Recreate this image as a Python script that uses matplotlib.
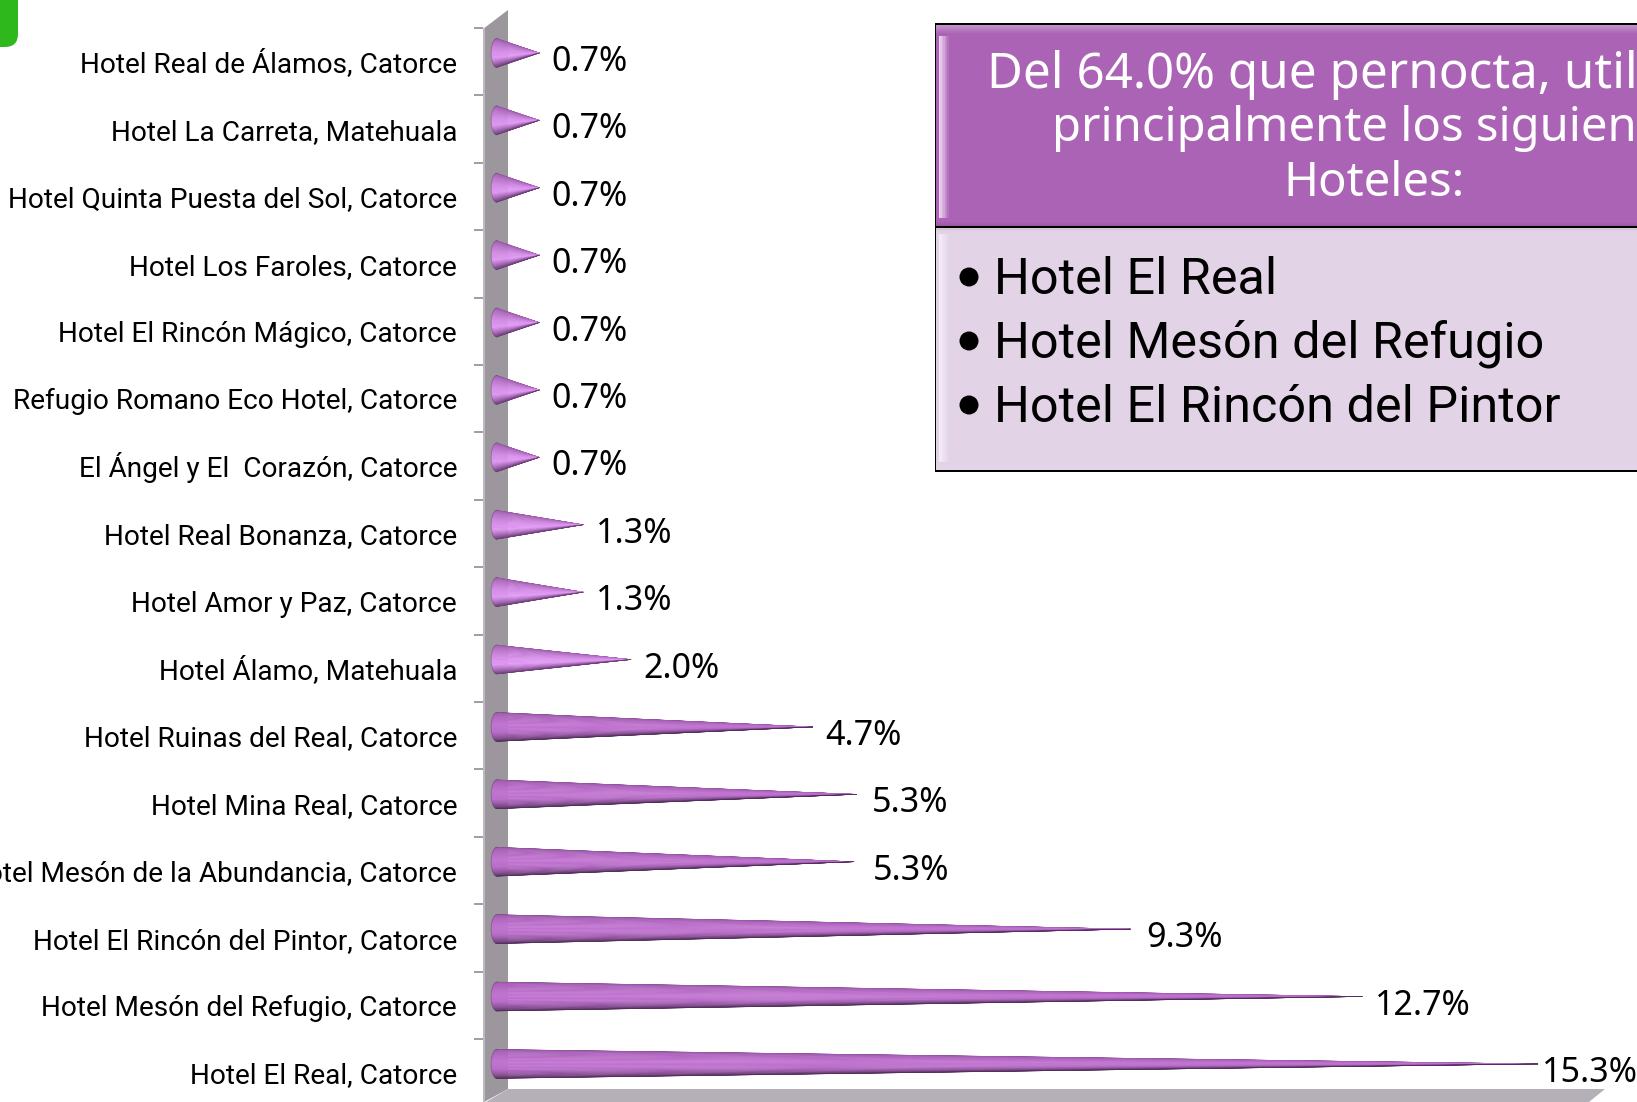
import numpy as np
import matplotlib
matplotlib.use('Agg')
import matplotlib.pyplot as plt
from matplotlib.patches import Polygon, FancyBboxPatch, Rectangle, Ellipse

hoteles = ['Hotel Real de Álamos, Catorce', 'Hotel La Carreta, Matehuala',
           'Hotel Quinta Puesta del Sol, Catorce', 'Hotel Los Faroles, Catorce',
           'Hotel El Rincón Mágico, Catorce', 'Refugio Romano Eco Hotel, Catorce',
           'El Ángel y El  Corazón, Catorce', 'Hotel Real Bonanza, Catorce',
           'Hotel Amor y Paz, Catorce', 'Hotel Álamo, Matehuala',
           'Hotel Ruinas del Real, Catorce', 'Hotel Mina Real, Catorce',
           'Hotel Mesón de la Abundancia, Catorce', 'Hotel El Rincón del Pintor, Catorce',
           'Hotel Mesón del Refugio, Catorce', 'Hotel El Real, Catorce']
valores = [0.7, 0.7, 0.7, 0.7, 0.7, 0.7, 0.7, 1.34, 1.34, 2.04, 4.7, 5.34, 5.3, 9.34, 12.73, 15.3]

titulo = ['Del 64.0% que pernocta, utilizaron', 'principalmente los siguientes', 'Hoteles:']
lista = ['Hotel El Real', 'Hotel Mesón del Refugio', 'Hotel El Rincón del Pintor']

W, H = 1637, 1102
FUENTE_ETIQ = ['Roboto', 'DejaVu Sans']
FUENTE = ['Noto Sans', 'DejaVu Sans']

# separacion en pixeles entre la punta del cono y su etiqueta
separacion = [12.5] * 11 + [15.5, 18.5, 15.5, 12.5, 4]

fig = plt.figure(figsize=(W / 100, H / 100), dpi=100, facecolor='white')


def px(x, y):
    return (x / W, 1 - y / H)


def poligono(puntos, color, z=-1):
    fig.add_artist(Polygon([px(*p) for p in puntos], closed=True, transform=fig.transFigure,
                           facecolor=color, edgecolor='none', zorder=z))


def degradado(x0, x1, y0, y1, c0, c1, vertical=True, n=14):
    # bisel de la tabla, tiras finas
    c0, c1 = np.array(matplotlib.colors.to_rgb(c0)), np.array(matplotlib.colors.to_rgb(c1))
    for k in range(n):
        t = k / (n - 1)
        col = c0 * (1 - t) + c1 * t
        if vertical:
            a, b = y0 + (y1 - y0) * k / n, y0 + (y1 - y0) * (k + 1) / n
            poligono([(x0, a), (x1, a), (x1, b), (x0, b)], col)
        else:
            a, b = x0 + (x1 - x0) * k / n, x0 + (x1 - x0) * (k + 1) / n
            poligono([(a, y0), (b, y0), (b, y1), (a, y1)], col)


# pared y piso del grafico 3D
poligono([(483, 29), (508, 10), (508, 1089), (484, 1102), (483, 1102)], '#9b979d')
poligono([(483, 29), (485, 27.5), (485, 1102), (483, 1102)], '#bdbabf')
poligono([(508, 1089), (1605, 1089), (1589, 1102), (486, 1102)], '#b5b0b8')

# recuadro verde de la esquina
fig.add_artist(FancyBboxPatch((-30 / W, 1 - 47 / H), 48 / W, 80 / H,
                              boxstyle='round,pad=0,rounding_size=0.008',
                              mutation_aspect=W / H, transform=fig.transFigure,
                              facecolor='#2fb81c', edgecolor='none', zorder=-1))

# ejes
ax = fig.add_axes([483 / W, 1 - (28 + 16 * 67.4) / H, (16.124 * 68.4) / W, 16 * 67.4 / H])
ax.patch.set_alpha(0)
ax.set_xlim(-0.124, 16)
ax.set_ylim(16, 0)
for lado in ax.spines.values():
    lado.set_visible(False)
ax.set_xticks([])
ax.set_yticks(np.arange(len(hoteles)) + 0.66)
ax.set_yticklabels(hoteles, fontsize=20.2, family=FUENTE_ETIQ, color='black', va='baseline')
ax.set_yticks(np.arange(len(hoteles) + 1), minor=True)
ax.tick_params(axis='y', which='major', length=0, pad=18.7)
ax.tick_params(axis='y', which='minor', length=6.5, width=1.2, color='#8f8c91')

# sombreado de los conos: arriba oscuro, brillo, abajo muy oscuro
tonos_pos = [0.0, 0.12, 0.45, 0.62, 0.85, 1.0]
tonos_chico = ['#8a5096', '#a764b7', '#d68ee8', '#e29af6', '#8b5298', '#6a3c74']
tonos_grande = ['#7a4686', '#a35db2', '#c274d2', '#bb6ecb', '#74427f', '#4f2d58']
cm_chico = matplotlib.colors.LinearSegmentedColormap.from_list('c', list(zip(tonos_pos, tonos_chico)))
cm_grande = matplotlib.colors.LinearSegmentedColormap.from_list('g', list(zip(tonos_pos, tonos_grande)))

alto = 0.215
base_x = 0.08
base_a = 0.085
n_caras = 30

for i, v in enumerate(valores):
    cy = i + 0.5 - 0.13
    mapa = cm_chico if v < 3 else cm_grande
    th = np.linspace(0, np.pi, n_caras + 1)
    ys = cy - alto * np.cos(th)
    xs = base_x - base_a * np.sin(th)
    for k in range(n_caras):
        ax.fill([xs[k], xs[k + 1], v], [ys[k], ys[k + 1], cy], color=mapa((k + 0.5) / n_caras),
                linewidth=0.3, zorder=3)
    ax.plot(xs, ys, color='#6a3c74', linewidth=0.7, alpha=0.45, zorder=4)
    ax.annotate(f'{v:.1f}%', (v, cy), xytext=(separacion[i] * 0.72, -9 * 0.72), textcoords='offset points',
                fontsize=24.5, family=FUENTE, color='black', ha='left', va='center', zorder=5)

# tabla de la derecha
poligono([(935, 23), (1640, 23), (1640, 226), (935, 226)], '#ab63b5')
degradado(936, 1640, 24, 34, '#c99ad1', '#ab63b5')
degradado(936, 1640, 221, 226, '#ab63b5', '#9a58a3', n=5)
poligono([(935, 226), (1640, 226), (1640, 471), (935, 471)], '#e2d3e7')
degradado(936, 1640, 227, 232, '#cfc3d3', '#e2d3e7', n=5)
degradado(939, 950, 36, 218, '#eed6f2', '#ab63b5', vertical=False, n=8)
degradado(939, 950, 234, 462, '#f3edf5', '#e2d3e7', vertical=False, n=8)
for x0, y0, x1, y1 in [(935, 23, 1640, 24.5), (935, 225.5, 1640, 227.5), (935, 470, 1640, 471.5), (934.5, 23, 936, 471.5)]:
    fig.add_artist(Rectangle(px(x0, y1), (x1 - x0) / W, (y1 - y0) / H, transform=fig.transFigure,
                             facecolor='black', edgecolor='none', zorder=-0.5))

for t, x, y, tam in zip(titulo, [1385, 1377, 1374], [75, 129, 184], [35.5, 34, 34]):
    fig.text(*px(x, y), t, color='white', fontsize=tam, family=FUENTE, ha='center', va='center')
for t, y in zip(lista, [280, 344, 408]):
    fig.text(*px(994, y), t, color='black', fontsize=36.3, family=FUENTE_ETIQ, ha='left', va='center')
    fig.add_artist(Ellipse(px(969, y - 3), 19 / W, 19 / H, transform=fig.transFigure,
                           facecolor='black', edgecolor='none', zorder=3))

plt.savefig('out.png', dpi=100)
